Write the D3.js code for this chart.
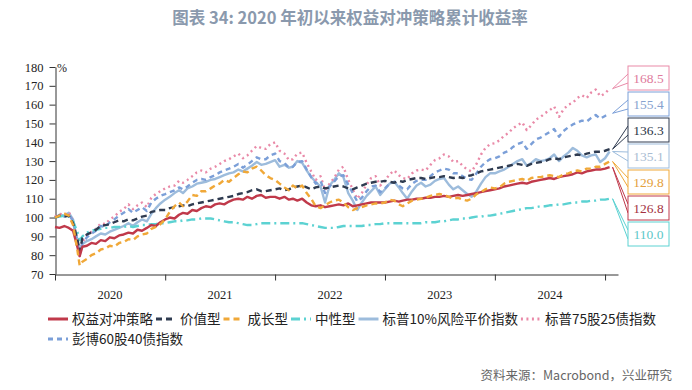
<!DOCTYPE html>
<html>
<head>
<meta charset="utf-8">
<script src="https://cdn.jsdelivr.net/npm/d3@7"></script>
<style>
  body { margin: 0; background: #fff; }
  text { font-family: "Liberation Serif", serif; }
</style>
</head>
<body>
<script>
// series names (legend order) and year labels
let seriesNames = ["权益对冲策略", "价值型", "成长型", "中性型", "标普10%风险平价指数", "标普75股25债指数", "彭博60股40债指数"];
let yearLabels = ["2020", "2021", "2022", "2023", "2024"];

// half-monthly readings, 1st and 16th of each month, plus 2020-03-23 (the Covid low)
let hedge = [
  95, 94.5, 95.5, 94.5, 93, 84, 79.5, 84.5, 85, 86.5, 86, 88, 87.5, 89.5, 89, 90.5, 91, 92, 91.5, 93.5, 93, 94.5, 96, 95.5, 97.5,
  99, 100, 99.5, 101.5, 102.5, 102, 104, 103.5, 105, 106, 105.5, 107, 107.5, 107, 108.5, 109.5, 110, 109.5, 111, 110, 111.5, 112, 110.5, 111,
  111, 110, 111, 109.5, 110, 109, 110, 108, 106.5, 106, 106.5, 105.5, 106, 106.5, 107, 106.5, 107.5, 106, 106.5, 107, 107.5, 108, 108, 108,
  108, 108.5, 109, 108.5, 109, 109.5, 109.5, 110, 110, 110.5, 110.5, 111, 111, 111.5, 111, 111.5, 112, 111.5, 112, 112.5, 113, 113.5, 114, 114.5,
  115, 115.5, 116.5, 117, 117.5, 118, 118.5, 118, 119, 119.5, 120, 120.5, 121, 120.5, 121.5, 122, 122.5, 123, 124, 123.5, 124.5, 125, 125.5, 125.5,
  126, 126.8
];
let value = [
  100, 101, 100.5, 101, 97, 88, 82, 89, 91, 92, 93.5, 95.5, 96, 96.5, 97.5, 98.5, 98, 99, 98.5, 99.5, 100.5, 101, 103, 103.5, 104,
  104, 105, 105.5, 106, 106.5, 106, 107, 107.5, 108, 108.5, 109, 109.5, 110, 110.5, 111, 111.5, 112.5, 113, 113.5, 114.5, 115, 114, 114, 114.5,
  115, 115.5, 114.5, 115, 116, 116.5, 117, 116, 115, 116, 116.5, 115.5, 116, 116.5, 117, 116.5, 115.5, 115, 116, 117, 118, 118.5, 119, 119,
  119.5, 119, 118.5, 119.5, 119, 120, 120.5, 121, 121, 120.5, 121, 121.5, 121.5, 122, 121.5, 121, 121.5, 121, 122, 122.5, 123.5, 124.5, 125, 125.5,
  126, 126.5, 127, 127.5, 128, 128.5, 128, 127.5, 128.5, 129, 129.5, 130, 131, 131.5, 131, 132, 132.5, 133, 133.5, 133, 134, 134.5, 135, 135,
  135.5, 136.3
];
let growth = [
  100, 101, 102, 101, 96, 82, 74.5, 76.5, 78, 80, 81, 83, 83.5, 85, 84.5, 86.5, 87, 88.5, 88, 90, 91, 91.5, 94, 95, 96.5,
  99, 103, 106, 108, 106, 108.5, 112, 111.5, 114, 114, 115.5, 117, 118, 120, 119, 121, 123, 124.5, 124, 126, 127, 125, 122.5, 121,
  120, 118, 116, 114.5, 117, 115.5, 117, 113, 110, 106, 105, 106.5, 108, 109, 109.5, 108, 105.5, 104, 105, 105.5, 106.5, 107, 107.5, 107.5,
  108, 109.5, 109, 107, 106, 107.5, 109, 109.5, 110, 110.5, 111.5, 112, 112.5, 112, 111, 110, 110.5, 109.5, 109, 110, 112.5, 113.5, 115, 116,
  115.5, 116, 118, 119, 119.5, 120, 120.5, 119.5, 121, 121.5, 121.5, 122, 122.5, 122, 121.5, 123, 123.5, 124.5, 125, 124.5, 126, 126, 127, 127,
  128.5, 129.8
];
let neutral = [
  100, 100.5, 101, 100.5, 98, 92, 88, 90, 92, 93, 93.5, 94, 94.5, 94.5, 95, 95, 95, 95.5, 95, 95.5, 96, 96, 96.5, 96.5, 97,
  97, 97.5, 98, 98, 98.5, 98.5, 99, 99, 99.5, 99.5, 99.5, 99, 98.5, 98, 97.5, 97.5, 97, 96.5, 96, 96, 96.5, 97, 97, 97,
  97, 97, 97, 97, 97, 97, 97, 96.5, 96, 95.5, 95, 94.5, 94.5, 94.5, 95, 95.5, 95.5, 95.5, 95.5, 95.5, 96, 96, 96.5, 96.5,
  97, 97, 97, 97, 97, 97, 97, 97, 97, 97.5, 97.5, 97.5, 98, 98, 98.5, 99, 99, 99.5, 99.5, 100, 100.5, 100.5, 101, 101,
  101.5, 102, 102.5, 103, 103.5, 104, 104.5, 105, 105, 105.5, 106, 106, 106.5, 106.5, 107, 107, 107.5, 108, 108, 108.5, 108.5, 109, 109, 109.5,
  109.5, 110.0
];
let riskParity = [
  100, 101.5, 101, 102.5, 99, 87, 80, 86, 87.5, 88.5, 90, 91.5, 91, 92.5, 93.5, 94.5, 95.5, 97, 95.5, 97.5, 99, 98, 102, 105, 107.5,
  109.5, 111, 113, 114.5, 113, 115.5, 116.5, 118, 118.5, 119, 120, 120.5, 121.5, 122.5, 123.5, 124, 125.5, 124.5, 126, 127.5, 129.5, 128, 128.5, 129.5,
  130.5, 127, 128, 126.5, 127, 130, 129, 125, 121.5, 119, 116.5, 108, 117, 120, 123.5, 121.5, 113, 109, 104, 108, 111.5, 114, 116.5, 112,
  115, 118, 119, 116, 113, 110, 114, 117, 118.5, 116.5, 117.5, 119.5, 120.5, 121, 117.5, 115, 116.5, 114.5, 112.5, 111, 114, 118, 121.5, 123.5,
  123.5, 124.5, 125.5, 127, 128.5, 130, 131, 127.5, 129, 131, 130, 130.5, 131.5, 133.5, 130, 132.5, 134.5, 137, 135.5, 133, 132, 133, 133.5, 129.5,
  131.5, 135.1
];
let sp7525 = [
  100.5, 102, 101.5, 103, 98, 86, 79.5, 87, 90.5, 92.5, 94, 97, 96.5, 99, 100.5, 103, 104.5, 107, 104.5, 106.5, 108, 105.5, 110.5, 112.5, 114,
  115.5, 116.5, 117, 119.5, 118.5, 120, 122, 124, 125, 124, 126, 127, 128.5, 130, 131, 132.5, 134, 131.5, 133, 135.5, 138, 137, 136.5, 139,
  140, 135.5, 134, 130.5, 131, 134, 134.5, 129, 124.5, 120, 122, 114.5, 118, 121, 125.5, 127, 120, 115, 110, 113, 117.5, 121, 122, 117,
  119.5, 123, 125, 122.5, 121, 120.5, 123.5, 125, 125.5, 125, 128, 130.5, 131.5, 133.5, 132.5, 129.5, 130, 127.5, 125.5, 124.5, 128.5, 133.5, 137, 139,
  139.5, 141, 143.5, 145, 147.5, 149, 150.5, 146.5, 149, 152, 153.5, 155.5, 157, 159, 153.5, 157.5, 160, 161, 163.5, 165, 163.5, 166.5, 168, 164.5,
  166, 168.5
];
let bb6040 = [
  100, 101, 100.5, 102, 98, 87, 81, 86.5, 89.5, 91.5, 93, 95.5, 95, 97.5, 99, 101, 102.5, 104.5, 102.5, 104, 105.5, 103.5, 108, 110, 111.5,
  112.5, 113.5, 114.5, 116, 115, 116.5, 118.5, 120, 120.5, 120, 121.5, 122.5, 124, 125, 126, 127, 128.5, 126.5, 128, 130, 132, 131, 131, 133,
  134, 130, 129, 126.5, 127, 129.5, 130, 125.5, 121.5, 118, 119.5, 113, 116.5, 119, 122, 122.5, 117.5, 113, 108.5, 110.5, 114, 116.5, 117, 113.5,
  115.5, 118, 119, 117, 115.5, 115, 118, 119.5, 120, 120, 122, 124, 125, 126, 125.5, 123.5, 123.5, 122, 120.5, 120, 123.5, 127, 129.5, 131,
  131.5, 132.5, 134.5, 135.5, 137.5, 139, 140, 136.5, 139, 141.5, 142.5, 144, 145.5, 147, 143, 146, 148, 149.5, 150.5, 151.5, 151, 153, 154.5, 152.5,
  154, 155.4
];

let dates = [];
d3.timeMonth.range(new Date(2020, 0, 1), new Date(2025, 1, 1)).forEach((m) => {
    dates.push(m);
    dates.push(d3.timeDay.offset(m, 15));
});
dates.splice(6, 0, new Date(2020, 2, 23));

let series = [
    { name: seriesNames[0], values: hedge, color: "#c0394a", dash: null },
    { name: seriesNames[1], values: value, color: "#2f3b50", dash: "6,4" },
    { name: seriesNames[2], values: growth, color: "#f0a838", dash: "6,4" },
    { name: seriesNames[3], values: neutral, color: "#5cd2d2", dash: "9,4,2,4" },
    { name: seriesNames[4], values: riskParity, color: "#9dbcdc", dash: null },
    { name: seriesNames[5], values: sp7525, color: "#e98aa8", dash: "2,3.5" },
    { name: seriesNames[6], values: bb6040, color: "#7b9fd8", dash: "5,4" }
];

let canvas = d3.select("body").append("svg")
    .attr("width", 692)
    .attr("height", 390);

let x = d3.scaleTime()
    .domain([new Date(2020, 0, 1), new Date(2025, 1, 13)])
    .range([55, 618]);
let y = d3.scaleLinear()
    .domain([70, 180])
    .range([274, 67]);

// title
canvas.append("text")
    .attr("x", 350).attr("y", 24)
    .attr("text-anchor", "middle")
    .style("font-family", "'Noto Sans CJK SC', sans-serif")
    .style("font-weight", "bold")
    .style("font-size", "16.5px")
    .attr("fill", "#8a99ad")
    .text("图表 34: 2020 年初以来权益对冲策略累计收益率");

// y axis
let yAxis = d3.axisLeft(y)
    .tickValues(d3.range(70, 181, 10))
    .tickSize(6)
    .tickSizeOuter(0)
    .tickPadding(6);
let gy = canvas.append("g")
    .attr("transform", "translate(55.5,0)")
    .call(yAxis);
gy.selectAll("text").style("font-size", "12.5px").attr("fill", "#222");
gy.selectAll("line, path").attr("stroke", "#333");

canvas.append("text")
    .attr("x", 57).attr("y", 72)
    .style("font-size", "12px")
    .attr("fill", "#222")
    .text("%");

// x axis: ticks at year boundaries, labels in the middle of each year
let years = d3.range(2020, 2026).map((yr) => new Date(yr, 0, 1));
let xAxis = d3.axisBottom(x)
    .tickValues(years)
    .tickFormat("")
    .tickSize(6)
    .tickSizeOuter(0);
let gx = canvas.append("g")
    .attr("transform", "translate(0,274.5)")
    .call(xAxis);
gx.selectAll("line, path").attr("stroke", "#333");

canvas.selectAll("text.year")
    .data(yearLabels)
    .enter()
        .append("text")
        .attr("class", "year")
        .attr("x", (d) => x(new Date(+d, 6, 2)))
        .attr("y", 299)
        .attr("text-anchor", "middle")
        .style("font-size", "12.5px")
        .attr("fill", "#222")
        .text((d) => d);

// lines
let line = d3.line()
    .x((d, i) => x(dates[i]))
    .y((d) => y(d));

let drawOrder = [4, 5, 6, 3, 1, 0, 2];
canvas.selectAll("path.series")
    .data(drawOrder.map((k) => series[k]))
    .enter()
        .append("path")
        .attr("class", "series")
        .attr("d", (d) => line(d.values))
        .attr("fill", "none")
        .attr("stroke", (d) => d.color)
        .attr("stroke-width", 2.4)
        .attr("stroke-dasharray", (d) => d.dash)
        .attr("stroke-linejoin", "round");

// end-value callouts, top to bottom
let calloutOrder = [5, 6, 1, 4, 2, 0, 3];
let textColors = ["#a33040", "#2b3445", "#e4a03c", "#5cc8c8", "#a9bcd2", "#e07b9c", "#86a2cf"];
let boxLeft = 628, boxW = 41, boxH = 24, boxTop = 66, boxGap = 2;
let lastDate = dates[dates.length - 1];

let callouts = canvas.selectAll("g.callout")
    .data(calloutOrder)
    .enter()
        .append("g")
        .attr("class", "callout");

callouts.append("path")
    .attr("d", (k, i) => {
        let cy = boxTop + i * (boxH + boxGap) + boxH / 2;
        let tx = x(lastDate) + 3;
        let ty = y(series[k].values[series[k].values.length - 1]);
        return `M${boxLeft},${cy - 4}L${tx},${ty}L${boxLeft},${cy + 5}`;
    })
    .attr("fill", "#fff")
    .attr("stroke", (k) => series[k].color)
    .attr("stroke-width", 1);

callouts.append("rect")
    .attr("x", boxLeft)
    .attr("y", (k, i) => boxTop + i * (boxH + boxGap))
    .attr("width", boxW)
    .attr("height", boxH)
    .attr("fill", "#fff")
    .attr("stroke", (k) => series[k].color)
    .attr("stroke-width", 1);

callouts.append("text")
    .attr("x", boxLeft + boxW / 2)
    .attr("y", (k, i) => boxTop + i * (boxH + boxGap) + boxH / 2 + 5)
    .attr("text-anchor", "middle")
    .style("font-size", "13.5px")
    .attr("fill", (k) => textColors[k])
    .text((k) => series[k].values[series[k].values.length - 1].toFixed(1));

// legend, flowing left to right, wrapping
let legend = canvas.append("g");
let lx = 48, ly = 319;
series.forEach((s) => {
    let g = legend.append("g");
    let t = g.append("text")
        .attr("y", 4.5)
        .style("font-family", "'Noto Sans CJK SC', sans-serif")
        .style("font-size", "13.5px")
        .attr("fill", "#222")
        .text(s.name);
    let w = 24 + t.node().getComputedTextLength();
    if (lx + w > 680) { lx = 48; ly += 20; }
    g.attr("transform", `translate(${lx},${ly})`);
    t.attr("x", 24);
    g.append("line")
        .attr("x1", 0).attr("x2", 20)
        .attr("stroke", s.color)
        .attr("stroke-width", 3)
        .attr("stroke-dasharray", s.dash);
    lx += w + 3;
});

// source
canvas.append("text")
    .attr("x", 672).attr("y", 380)
    .attr("text-anchor", "end")
    .style("font-family", "'Noto Sans CJK SC', sans-serif")
    .style("font-size", "12.5px")
    .attr("fill", "#666")
    .text("资料来源：Macrobond，兴业研究");
</script>
</body>
</html>
